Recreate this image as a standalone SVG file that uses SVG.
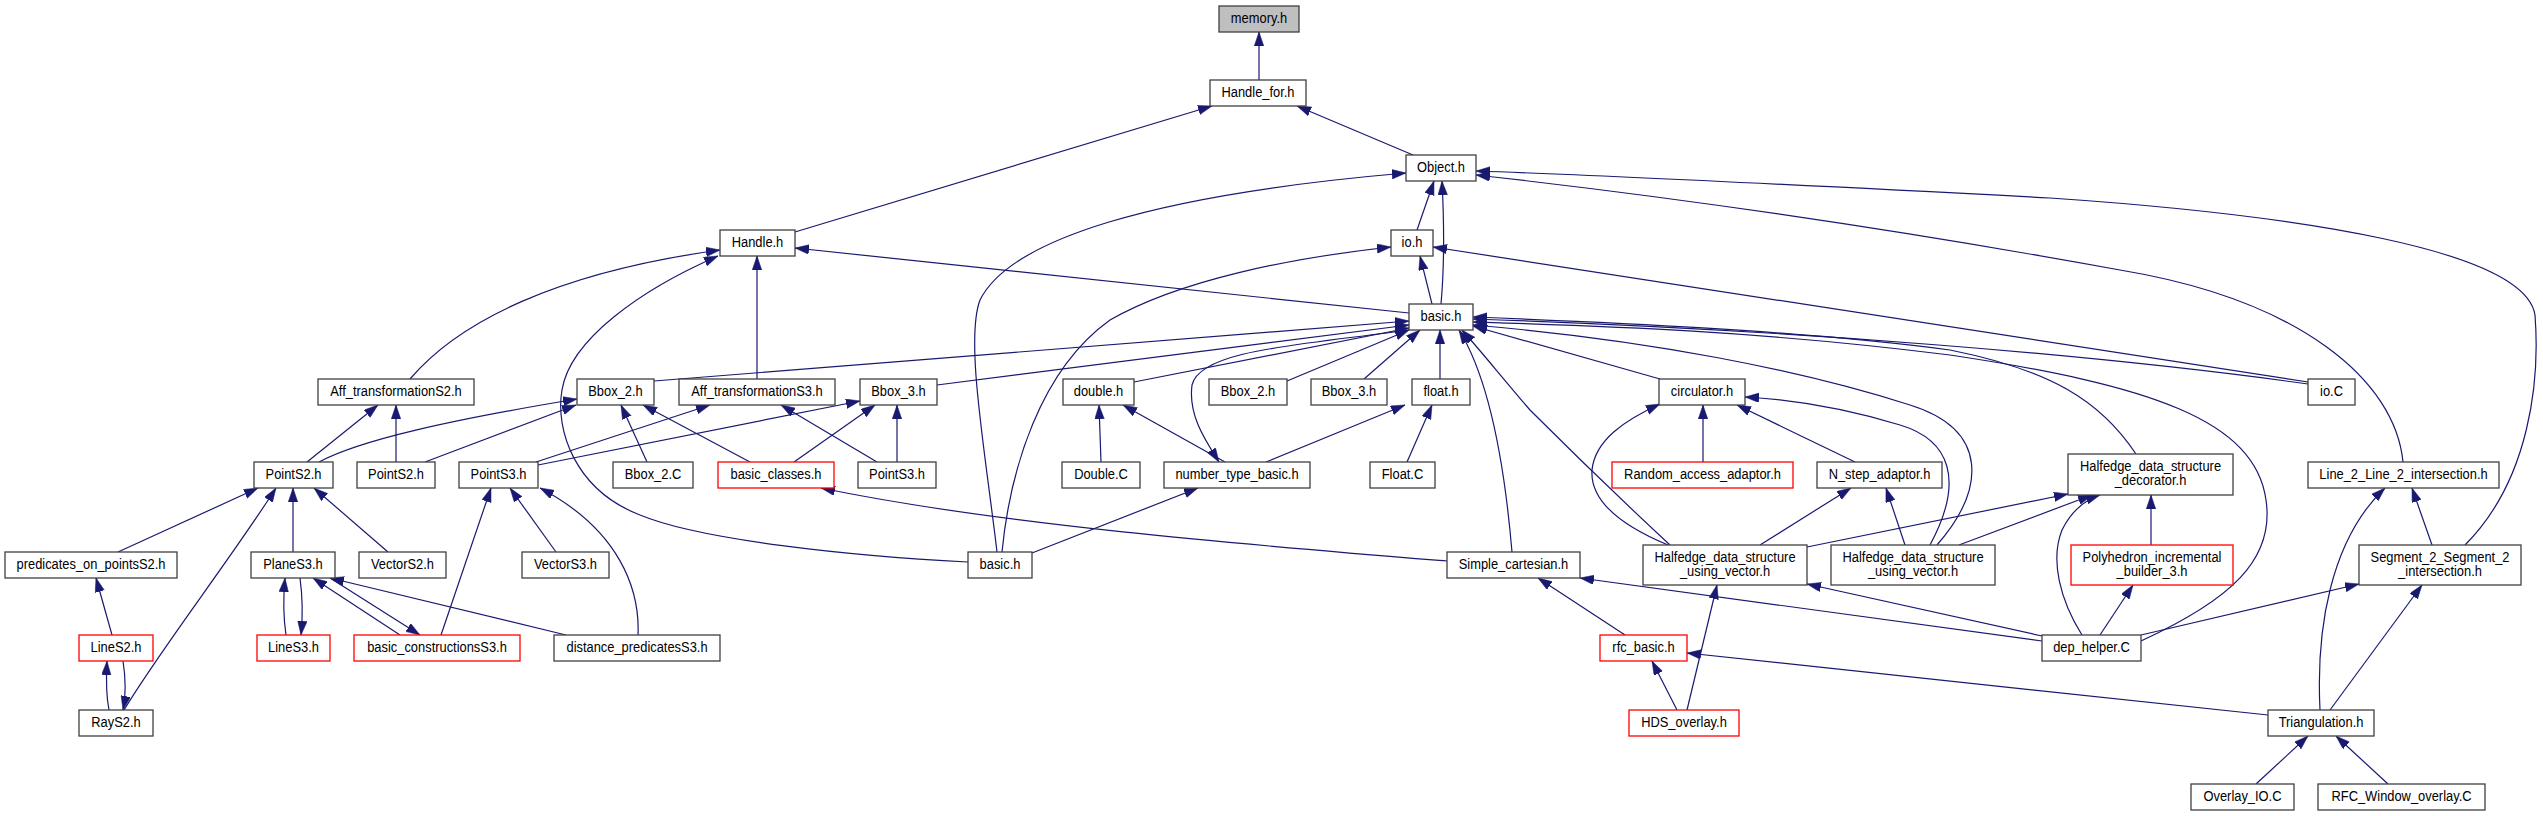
<svg xmlns="http://www.w3.org/2000/svg" width="2543" height="816" viewBox="0 0 2543 816">
<defs>
<marker id="arr" markerUnits="userSpaceOnUse" markerWidth="14" markerHeight="10" refX="14" refY="4.75" orient="auto">
<path d="M0,0 L14,4.75 L0,9.5 z" fill="#191970" stroke="#191970" stroke-width="0.5"/>
</marker>
<style>
.node rect{fill:#fff;stroke:#404040;stroke-width:1.3}
.node.red rect{stroke:#ff0000}
.node.root rect{fill:#bfbfbf}
text{font-family:"Liberation Sans",Arial,sans-serif;font-size:15px;text-anchor:middle;fill:#000}
#edges path{fill:none;stroke:#191970;stroke-width:1.2;marker-end:url(#arr)}
</style>
</defs>
<rect x="0" y="0" width="2543" height="816" fill="#fff"/>
<g id="edges">
<path d="M1259,80 L1259,32"/>
<path d="M795,232 L1212,106"/>
<path d="M1413,155 L1297,106"/>
<path d="M1417,230 L1434,181"/>
<path d="M1441,304 C1445,260 1444,220 1442,181"/>
<path d="M1432,304 L1420,256"/>
<path d="M1409,313 L795,248"/>
<path d="M410,379 C460,320 560,272 720,250"/>
<path d="M757,379 L757,256"/>
<path d="M968,562 C850,556 700,540 640,515 C575,490 555,430 562,390 C570,340 640,290 718,256"/>
<path d="M997,552 C985,450 965,340 980,300 C1010,240 1150,195 1406,173"/>
<path d="M1002,552 C1010,470 1040,370 1110,320 C1180,280 1290,258 1391,247"/>
<path d="M1032,553 L1198,488"/>
<path d="M1447,561 C1250,545 1000,525 821,488"/>
<path d="M1512,552 C1505,470 1490,380 1459,330"/>
<path d="M2042,641 L1580,578"/>
<path d="M1625,635 L1538,578"/>
<path d="M1677,710 L1652,661"/>
<path d="M1687,710 L1717,585"/>
<path d="M2268,715 L1687,653"/>
<path d="M2042,636 L1807,584"/>
<path d="M2256,784 L2308,736"/>
<path d="M2388,784 L2336,736"/>
<path d="M2330,710 L2422,585"/>
<path d="M2320,710 C2316,630 2330,540 2385,488"/>
<path d="M2432,545 L2412,488"/>
<path d="M2465,545 C2530,480 2540,380 2535,315 C2525,250 2300,215 2050,198 C1800,185 1600,175 1476,171"/>
<path d="M2403,462 C2395,380 2300,300 2120,270 C1900,230 1700,200 1476,175"/>
<path d="M2308,382 L1433,247"/>
<path d="M2308,384 C2100,355 1800,330 1473,319"/>
<path d="M2141,641 C2230,600 2275,560 2266,500 C2255,420 2150,385 1950,355 C1750,330 1600,326 1473,322"/>
<path d="M2136,454 C2100,400 2050,370 1950,350 C1800,330 1600,322 1473,317"/>
<path d="M2082,635 C2060,600 2050,560 2062,530 C2072,510 2085,500 2100,495"/>
<path d="M2151,545 L2151,495"/>
<path d="M2100,635 L2133,585"/>
<path d="M2141,635 L2359,584"/>
<path d="M1807,547 L2068,494"/>
<path d="M1959,545 L2092,495"/>
<path d="M1670,545 C1600,480 1560,440 1530,410 C1500,375 1480,350 1462,330"/>
<path d="M1937,545 C1985,490 1990,430 1910,405 C1800,370 1650,340 1473,325"/>
<path d="M1930,545 C1965,480 1950,440 1900,425 C1850,410 1800,400 1745,397"/>
<path d="M1668,545 C1620,525 1590,500 1592,470 C1595,440 1625,420 1660,404"/>
<path d="M1855,462 L1737,405"/>
<path d="M1703,462 L1703,405"/>
<path d="M1760,545 L1851,488"/>
<path d="M1905,545 L1886,488"/>
<path d="M1287,381 L1409,330"/>
<path d="M1364,379 L1420,330"/>
<path d="M1440,379 L1440,330"/>
<path d="M1660,379 L1473,326"/>
<path d="M654,381 L1409,321"/>
<path d="M937,385 L1409,325"/>
<path d="M1134,382 L1409,328"/>
<path d="M1409,330 C1300,345 1200,350 1192,385 C1188,415 1205,440 1219,462"/>
<path d="M1225,462 L1123,405"/>
<path d="M1266,462 L1405,405"/>
<path d="M1407,462 L1432,405"/>
<path d="M1101,462 L1099,405"/>
<path d="M897,462 L897,405"/>
<path d="M877,462 L781,405"/>
<path d="M794,462 L875,405"/>
<path d="M750,462 L643,405"/>
<path d="M538,465 L860,401"/>
<path d="M536,462 L710,405"/>
<path d="M647,462 L621,405"/>
<path d="M425,462 L576,405"/>
<path d="M319,462 C360,440 450,420 577,399"/>
<path d="M307,462 L378,405"/>
<path d="M396,462 L396,405"/>
<path d="M118,552 L258,488"/>
<path d="M124,710 C160,650 230,560 276,488"/>
<path d="M293,552 L293,488"/>
<path d="M388,552 L314,488"/>
<path d="M441,635 L491,488"/>
<path d="M556,552 L510,488"/>
<path d="M638,635 C640,590 620,530 540,488"/>
<path d="M566,635 L330,578"/>
<path d="M400,635 L313,578"/>
<path d="M330,578 L420,635"/>
<path d="M286,635 C283,615 283,600 285,578"/>
<path d="M300,578 C303,600 303,615 301,635"/>
<path d="M112,635 L96,578"/>
<path d="M109,710 C106,695 106,680 107,661"/>
<path d="M123,661 C126,680 126,695 123,710"/>
</g>
<g id="n_memory" class="node root"><rect x="1219" y="6" width="80" height="26"/><text transform="translate(1259,23) scale(0.86,1)">memory.h</text></g>
<g id="n_handlefor" class="node"><rect x="1210" y="80" width="96" height="26"/><text transform="translate(1258,97) scale(0.86,1)">Handle_for.h</text></g>
<g id="n_object" class="node"><rect x="1406" y="155" width="70" height="26"/><text transform="translate(1441,172) scale(0.86,1)">Object.h</text></g>
<g id="n_handle" class="node"><rect x="720" y="230" width="75" height="26"/><text transform="translate(757.5,247) scale(0.86,1)">Handle.h</text></g>
<g id="n_io" class="node"><rect x="1391" y="230" width="42" height="26"/><text transform="translate(1412,247) scale(0.86,1)">io.h</text></g>
<g id="n_basic" class="node"><rect x="1409" y="304" width="64" height="26"/><text transform="translate(1441,321) scale(0.86,1)">basic.h</text></g>
<g id="n_affS2" class="node"><rect x="318" y="379" width="156" height="26"/><text transform="translate(396,396) scale(0.86,1)">Aff_transformationS2.h</text></g>
<g id="n_bbox2a" class="node"><rect x="577" y="379" width="77" height="26"/><text transform="translate(615.5,396) scale(0.86,1)">Bbox_2.h</text></g>
<g id="n_affS3" class="node"><rect x="679" y="379" width="156" height="26"/><text transform="translate(757,396) scale(0.86,1)">Aff_transformationS3.h</text></g>
<g id="n_bbox3a" class="node"><rect x="860" y="379" width="77" height="26"/><text transform="translate(898.5,396) scale(0.86,1)">Bbox_3.h</text></g>
<g id="n_double" class="node"><rect x="1063" y="379" width="71" height="26"/><text transform="translate(1098.5,396) scale(0.86,1)">double.h</text></g>
<g id="n_bbox2b" class="node"><rect x="1209" y="379" width="78" height="26"/><text transform="translate(1248,396) scale(0.86,1)">Bbox_2.h</text></g>
<g id="n_bbox3b" class="node"><rect x="1311" y="379" width="76" height="26"/><text transform="translate(1349,396) scale(0.86,1)">Bbox_3.h</text></g>
<g id="n_float" class="node"><rect x="1412" y="379" width="58" height="26"/><text transform="translate(1441,396) scale(0.86,1)">float.h</text></g>
<g id="n_circ" class="node"><rect x="1659" y="379" width="86" height="26"/><text transform="translate(1702,396) scale(0.86,1)">circulator.h</text></g>
<g id="n_ioC" class="node"><rect x="2308" y="379" width="47" height="26"/><text transform="translate(2331.5,396) scale(0.86,1)">io.C</text></g>
<g id="n_pointS2a" class="node"><rect x="254" y="462" width="79" height="26"/><text transform="translate(293.5,479) scale(0.86,1)">PointS2.h</text></g>
<g id="n_pointS2b" class="node"><rect x="357" y="462" width="78" height="26"/><text transform="translate(396,479) scale(0.86,1)">PointS2.h</text></g>
<g id="n_pointS3a" class="node"><rect x="459" y="462" width="79" height="26"/><text transform="translate(498.5,479) scale(0.86,1)">PointS3.h</text></g>
<g id="n_bbox2C" class="node"><rect x="613" y="462" width="80" height="26"/><text transform="translate(653,479) scale(0.86,1)">Bbox_2.C</text></g>
<g id="n_basicclasses" class="node red"><rect x="718" y="462" width="116" height="26"/><text transform="translate(776,479) scale(0.86,1)">basic_classes.h</text></g>
<g id="n_pointS3b" class="node"><rect x="858" y="462" width="78" height="26"/><text transform="translate(897,479) scale(0.86,1)">PointS3.h</text></g>
<g id="n_doubleC" class="node"><rect x="1062" y="462" width="78" height="26"/><text transform="translate(1101,479) scale(0.86,1)">Double.C</text></g>
<g id="n_ntb" class="node"><rect x="1164" y="462" width="146" height="26"/><text transform="translate(1237,479) scale(0.86,1)">number_type_basic.h</text></g>
<g id="n_floatC" class="node"><rect x="1370" y="462" width="65" height="26"/><text transform="translate(1402.5,479) scale(0.86,1)">Float.C</text></g>
<g id="n_raa" class="node red"><rect x="1612" y="462" width="181" height="26"/><text transform="translate(1702.5,479) scale(0.86,1)">Random_access_adaptor.h</text></g>
<g id="n_nstep" class="node"><rect x="1817" y="462" width="125" height="26"/><text transform="translate(1879.5,479) scale(0.86,1)">N_step_adaptor.h</text></g>
<g id="n_line2" class="node"><rect x="2308" y="462" width="191" height="26"/><text transform="translate(2403.5,479) scale(0.86,1)">Line_2_Line_2_intersection.h</text></g>
<g id="n_hdsdec" class="node"><rect x="2068" y="454" width="165" height="41"/><text transform="translate(2150.5,471) scale(0.86,1)"><tspan x="0">Halfedge_data_structure</tspan><tspan x="0" dy="14.5">_decorator.h</tspan></text></g>
<g id="n_pred" class="node"><rect x="5" y="552" width="172" height="26"/><text transform="translate(91,569) scale(0.86,1)">predicates_on_pointsS2.h</text></g>
<g id="n_plane" class="node"><rect x="251" y="552" width="84" height="26"/><text transform="translate(293,569) scale(0.86,1)">PlaneS3.h</text></g>
<g id="n_vecS2" class="node"><rect x="359" y="552" width="87" height="26"/><text transform="translate(402.5,569) scale(0.86,1)">VectorS2.h</text></g>
<g id="n_vecS3" class="node"><rect x="522" y="552" width="87" height="26"/><text transform="translate(565.5,569) scale(0.86,1)">VectorS3.h</text></g>
<g id="n_basic2" class="node"><rect x="968" y="552" width="64" height="26"/><text transform="translate(1000,569) scale(0.86,1)">basic.h</text></g>
<g id="n_simple" class="node"><rect x="1447" y="552" width="133" height="26"/><text transform="translate(1513.5,569) scale(0.86,1)">Simple_cartesian.h</text></g>
<g id="n_hdsuv1" class="node"><rect x="1643" y="545" width="164" height="40"/><text transform="translate(1725,562) scale(0.86,1)"><tspan x="0">Halfedge_data_structure</tspan><tspan x="0" dy="14.5">_using_vector.h</tspan></text></g>
<g id="n_hdsuv2" class="node"><rect x="1831" y="545" width="164" height="40"/><text transform="translate(1913,562) scale(0.86,1)"><tspan x="0">Halfedge_data_structure</tspan><tspan x="0" dy="14.5">_using_vector.h</tspan></text></g>
<g id="n_poly" class="node red"><rect x="2071" y="545" width="162" height="40"/><text transform="translate(2152,562) scale(0.86,1)"><tspan x="0">Polyhedron_incremental</tspan><tspan x="0" dy="14.5">_builder_3.h</tspan></text></g>
<g id="n_seg" class="node"><rect x="2359" y="545" width="162" height="40"/><text transform="translate(2440,562) scale(0.86,1)"><tspan x="0">Segment_2_Segment_2</tspan><tspan x="0" dy="14.5">_intersection.h</tspan></text></g>
<g id="n_lineS2" class="node red"><rect x="79" y="635" width="74" height="26"/><text transform="translate(116,652) scale(0.86,1)">LineS2.h</text></g>
<g id="n_lineS3" class="node red"><rect x="257" y="635" width="73" height="26"/><text transform="translate(293.5,652) scale(0.86,1)">LineS3.h</text></g>
<g id="n_bcS3" class="node red"><rect x="354" y="635" width="166" height="26"/><text transform="translate(437,652) scale(0.86,1)">basic_constructionsS3.h</text></g>
<g id="n_dpS3" class="node"><rect x="554" y="635" width="166" height="26"/><text transform="translate(637,652) scale(0.86,1)">distance_predicatesS3.h</text></g>
<g id="n_rfc" class="node red"><rect x="1600" y="635" width="87" height="26"/><text transform="translate(1643.5,652) scale(0.86,1)">rfc_basic.h</text></g>
<g id="n_dep" class="node"><rect x="2042" y="635" width="99" height="26"/><text transform="translate(2091.5,652) scale(0.86,1)">dep_helper.C</text></g>
<g id="n_ray" class="node"><rect x="79" y="710" width="74" height="26"/><text transform="translate(116,727) scale(0.86,1)">RayS2.h</text></g>
<g id="n_hdsov" class="node red"><rect x="1629" y="710" width="110" height="26"/><text transform="translate(1684,727) scale(0.86,1)">HDS_overlay.h</text></g>
<g id="n_tri" class="node"><rect x="2268" y="710" width="106" height="26"/><text transform="translate(2321,727) scale(0.86,1)">Triangulation.h</text></g>
<g id="n_ovio" class="node"><rect x="2191" y="784" width="103" height="26"/><text transform="translate(2242.5,801) scale(0.86,1)">Overlay_IO.C</text></g>
<g id="n_rfcwin" class="node"><rect x="2318" y="784" width="167" height="26"/><text transform="translate(2401.5,801) scale(0.86,1)">RFC_Window_overlay.C</text></g>
</svg>
